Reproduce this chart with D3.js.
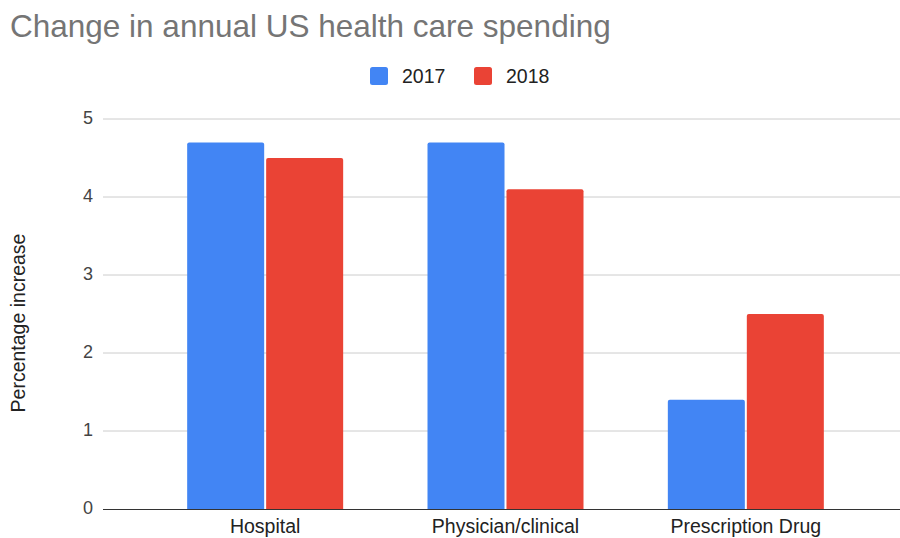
<!DOCTYPE html>
<html>
<head>
<meta charset="utf-8">
<script src="https://cdn.jsdelivr.net/npm/d3@7"></script>
<style>
  html, body { margin: 0; padding: 0; background: #fff; }
  svg { display: block; font-family: "Liberation Sans", Arial, sans-serif; }
</style>
</head>
<body>
<div id="chart"></div>
<script>
// Données
const categories = ["Hospital", "Physician/clinical", "Prescription Drug"]
const seriesNames = ["2017", "2018"]
const values2017 = [4.7, 4.7, 1.4]
const values2018 = [4.5, 4.1, 2.5]
const yTicks = [0, 1, 2, 3, 4, 5]

const colors = { "2017": "#4285f4", "2018": "#ea4335" }
const W = 900, H = 538

const rows = categories.map((c, i) => ({ cat: c, "2017": values2017[i], "2018": values2018[i] }))

const svg = d3.select("#chart").append("svg")
  .attr("width", W).attr("height", H)
  .attr("viewBox", `0 0 ${W} ${H}`)

// Titre
svg.append("text")
  .attr("x", 10).attr("y", 37)
  .attr("fill", "#757575").attr("font-size", 31.5)
  .text("Change in annual US health care spending")

// Échelles
const y = d3.scaleLinear().domain([0, 5]).range([509, 119])
const x = d3.scaleBand().domain(categories).range([145, 866])
const half = 78
const xs = d3.scaleBand().domain(seriesNames)
  .range([x.bandwidth() / 2 - half, x.bandwidth() / 2 + half])
  .paddingInner(0.025)

// Grille
svg.append("g")
  .selectAll("line")
  .data(yTicks.filter((d) => d > 0))
  .join("line")
  .attr("x1", 103).attr("x2", W)
  .attr("y1", (d) => y(d)).attr("y2", (d) => y(d))
  .attr("stroke", "#cccccc").attr("stroke-width", 1)

// Labels axe Y
svg.append("g")
  .selectAll("text")
  .data(yTicks)
  .join("text")
  .attr("x", 93).attr("y", (d) => y(d) - 1)
  .attr("dy", "0.35em")
  .attr("text-anchor", "end")
  .attr("fill", "#444").attr("font-size", 18)
  .text((d) => d)

// Titre axe Y
svg.append("text")
  .attr("transform", `translate(25,323) rotate(-90)`)
  .attr("text-anchor", "middle")
  .attr("fill", "#222").attr("font-size", 19.5)
  .text("Percentage increase")

// Barres (haut légèrement arrondi)
const barPath = (x0, w, y0, y1, r) =>
  `M${x0},${y1}V${y0 + r}Q${x0},${y0} ${x0 + r},${y0}H${x0 + w - r}Q${x0 + w},${y0} ${x0 + w},${y0 + r}V${y1}Z`

const grp = svg.append("g")
  .selectAll("g")
  .data(rows)
  .join("g")
  .attr("transform", (d) => `translate(${x(d.cat)},0)`)

grp.selectAll("path")
  .data((d) => seriesNames.map((s) => ({ s, v: d[s] })))
  .join("path")
  .attr("d", (d) => barPath(xs(d.s), xs.bandwidth(), y(d.v), y(0), 2))
  .attr("fill", (d) => colors[d.s])

// Ligne de base
svg.append("line")
  .attr("x1", 103).attr("x2", W)
  .attr("y1", y(0) + 0.5).attr("y2", y(0) + 0.5)
  .attr("stroke", "#333").attr("stroke-width", 1.2)

// Labels catégories (remontés un peu pour ne pas couper les jambages)
svg.append("g")
  .selectAll("text")
  .data(categories)
  .join("text")
  .attr("x", (d) => x(d) + x.bandwidth() / 2)
  .attr("y", 533)
  .attr("text-anchor", "middle")
  .attr("fill", "#222").attr("font-size", 19.5)
  .text((d) => d)

// Légende
const legendX = [370, 474]
const leg = svg.append("g")
  .selectAll("g")
  .data(seriesNames)
  .join("g")
  .attr("transform", (_, i) => `translate(${legendX[i]},67)`)
leg.append("rect")
  .attr("width", 18).attr("height", 18).attr("rx", 2.5)
  .attr("fill", (d) => colors[d])
leg.append("text")
  .attr("x", 32).attr("y", 9).attr("dy", "0.35em")
  .attr("fill", "#222").attr("font-size", 19.5)
  .text((d) => d)
</script>
</body>
</html>
